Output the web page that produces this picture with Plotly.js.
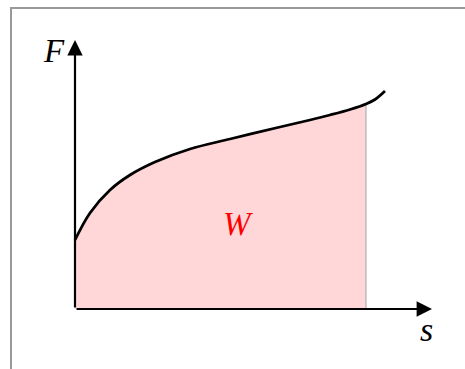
<!DOCTYPE html>
<html>
<head>
<meta charset="utf-8">
<script src="https://cdn.plot.ly/plotly-3.0.1.min.js"></script>
<style>html,body{margin:0;padding:0;background:#fff;}#chart{width:465px;height:369px;}</style>
</head>
<body>
<div id="chart"></div>
<script>
// Displacement s and force F (arbitrary units)
const sValues = [0, 15, 35, 55, 80, 115, 155, 205, 235, 255, 275, 291, 300, 310];
const fValues = [69, 96, 119, 134, 147, 160, 170, 182, 189, 194, 199.5, 205, 209.5, 218];
const sEnd = 291; // upper limit of the work integral
const labels = {force: "F", displacement: "s", work: "W"};

const fillS = [], fillF = [];
for (let i = 0; i < sValues.length; i++) {
  if (sValues[i] <= sEnd) { fillS.push(sValues[i]); fillF.push(fValues[i]); }
}

const traces = [
  {x: fillS, y: fillF, mode: 'lines', line: {width: 0, shape: 'spline', color: 'rgba(0,0,0,0)'},
   fill: 'tozeroy', fillcolor: 'rgb(255,215,217)', hoverinfo: 'skip'},
  {x: [sEnd, sEnd], y: [0, fValues[fillS.length - 1]], mode: 'lines',
   line: {color: '#b0b0b0', width: 1.2}, hoverinfo: 'skip'},
  {x: sValues, y: fValues, mode: 'lines', line: {color: '#000', width: 2.8, shape: 'spline'}, hoverinfo: 'skip'}
];

const axisStyle = {visible: false, fixedrange: true};
const serif = 'Liberation Serif, DejaVu Serif, serif';
const layout = {
  width: 465, height: 369,
  margin: {l: 0, r: 0, t: 0, b: 0},
  paper_bgcolor: '#fff', plot_bgcolor: '#fff',
  showlegend: false,
  xaxis: Object.assign({range: [-75, 390]}, axisStyle),
  yaxis: Object.assign({range: [-60, 309]}, axisStyle),
  shapes: [
    {type: 'rect', xref: 'x', yref: 'y', x0: -64, x1: 420, y0: 301, y1: -90,
     line: {color: '#999', width: 2}, fillcolor: 'rgba(0,0,0,0)', layer: 'below'}
  ],
  annotations: [
    {x: 0, y: 269, ax: 0, ay: 0, xref: 'x', yref: 'y', axref: 'x', ayref: 'y', text: '',
     showarrow: true, arrowhead: 2, arrowsize: 1.4, arrowwidth: 2.2, arrowcolor: '#000'},
    {x: 357, y: 0, ax: 0, ay: 0, xref: 'x', yref: 'y', axref: 'x', ayref: 'y', text: '',
     showarrow: true, arrowhead: 2, arrowsize: 1.4, arrowwidth: 2.2, arrowcolor: '#000'},
    {x: -21, y: 258, xref: 'x', yref: 'y', text: labels.force, showarrow: false,
     font: {family: serif, size: 33, color: '#000', style: 'italic'}},
    {x: 351, y: -20, xref: 'x', yref: 'y', text: labels.displacement, showarrow: false,
     font: {family: serif, size: 34, color: '#000', style: 'italic'}},
    {x: 163, y: 85, xref: 'x', yref: 'y', text: labels.work, showarrow: false,
     font: {family: serif, size: 33, color: '#ff0000', style: 'italic'}}
  ]
};

Plotly.newPlot('chart', traces, layout, {staticPlot: true, displayModeBar: false});
</script>
</body>
</html>
